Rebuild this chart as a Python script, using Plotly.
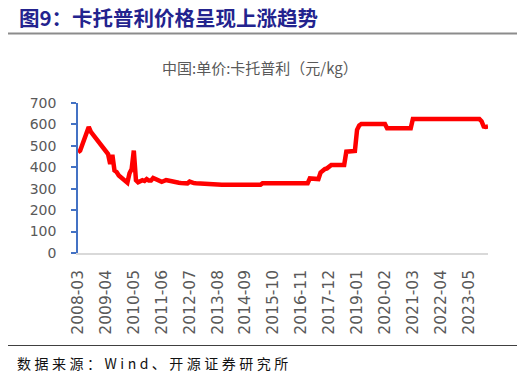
import plotly.graph_objects as go

# ---- data (monthly, 2008-03 .. 2024-02), 元/kg ----
start_year, start_month = 2008, 3
n_months = 192
months = []
y, m = start_year, start_month
for _ in range(n_months):
    months.append(f"{y}-{m:02d}")
    m += 1
    if m > 12:
        m = 1
        y += 1

prices = (
    [470, 478, 505, 535, 555, 588, 565, 552, 540, 530, 515, 500, 492, 478, 462, 415,
     458, 385, 378, 362, 352, 345, 335, 328, 372, 392, 478, 340, 330, 336, 340, 336,
     345, 338, 338, 350, 346, 342, 338, 332, 336, 340, 338, 335, 335, 332, 330, 328,
     327, 326, 326, 325, 333, 328, 326, 325, 324, 323, 322, 321, 320, 319, 319, 318,
     318, 318, 318, 318, 318, 318, 318, 318, 318, 318, 318, 318, 318, 318, 318, 318,
     318, 318, 318, 318, 318, 318, 326, 326, 326, 326, 326, 326, 326, 326, 326, 326,
     326, 326, 326, 326, 326, 326, 326, 326, 326, 326, 326, 326, 348, 348, 348, 348,
     345, 375, 386, 392, 395, 405, 411, 411, 411, 411, 411, 411, 411, 473, 473, 473,
     473, 476, 575, 595, 602, 602, 602, 602, 602, 602, 602, 602, 602, 602, 602, 602,
     582, 582, 582, 582, 582, 582, 582, 582, 582, 582, 582, 582, 625, 625, 625, 625,
     625, 625, 625, 625, 625, 625, 625, 625, 625, 625, 625, 625, 625, 625, 625, 625,
     625, 625, 625, 625, 625, 625, 625, 625, 625, 625, 625, 625, 615, 590, 588, 590]
)

tick_labels = months[::13]
y_ticks = [0, 100, 200, 300, 400, 500, 600, 700]

header_text = "图9：卡托普利价格呈现上涨趋势"
chart_title = "中国:单价:卡托普利（元/kg）"
source_text = "数据来源：Wind、开源证券研究所"

# ---- layout geometry (page body has an 8px margin) ----
OFF = 8
W, H = 527 - OFF, 377 - OFF
L, R, T, B = 78 - OFF, 39, 103 - OFF, 124
PW, PH = W - L - R, H - T - B


def px(xp):
    return (xp - OFF - L) / PW


def py(yp):
    return (H - B - (yp - OFF)) / PH


def spaced(s, sep="\u2005"):
    return sep.join(list(s))


fig = go.Figure()
fig.add_trace(go.Scatter(
    x=months, y=prices, mode="lines",
    line=dict(color="#FF0000", width=4.5),
    hoverinfo="skip", showlegend=False,
))

fig.update_layout(
    width=W, height=H,
    margin=dict(l=L, r=R, t=T, b=B),
    paper_bgcolor="white", plot_bgcolor="white",
    showlegend=False,
    xaxis=dict(
        type="category", range=[0, n_months - 1],
        tickmode="array", tickvals=tick_labels, ticktext=tick_labels,
        tickangle=-90,
        tickfont=dict(family="DejaVu Sans", size=15.5, color="#595959"),
        showgrid=False, zeroline=False,
        showline=True, linecolor="#D9D9D9", linewidth=1.5,
        ticks="", ticklabelstandoff=9,
    ),
    yaxis=dict(
        range=[0, 700], tickvals=y_ticks,
        tickfont=dict(family="DejaVu Sans", size=14, color="#595959"),
        showgrid=False, zeroline=False,
        showline=True, linecolor="#4472C4", linewidth=1.5,
        ticks="outside", ticklen=5, tickcolor="#4472C4", tickwidth=1.5,
        ticklabelstandoff=12,
    ),
    annotations=[
        dict(text=f"<b>{header_text}</b>", xref="paper", yref="paper",
             x=px(18), y=py(17), xanchor="left", yanchor="middle",
             showarrow=False, borderpad=0,
             font=dict(family="Noto Sans CJK SC", size=20.5, color="#23238E")),
        dict(text=chart_title, xref="paper", yref="paper",
             x=px(260), y=py(68), xanchor="center", yanchor="middle",
             showarrow=False,
             font=dict(family="Noto Sans CJK SC", size=15, color="#595959")),
        dict(text=spaced(source_text), xref="paper", yref="paper",
             x=px(15), y=py(363), xanchor="left", yanchor="middle",
             showarrow=False,
             font=dict(family="Noto Sans CJK SC", size=14, color="#111111")),
    ],
    shapes=[
        dict(type="line", xref="paper", yref="paper",
             x0=px(6), x1=px(517), y0=py(33.5), y1=py(33.5),
             line=dict(color="#8C8C8C", width=2)),
        dict(type="line", xref="paper", yref="paper",
             x0=px(6), x1=px(517), y0=py(345.5), y1=py(345.5),
             line=dict(color="#404040", width=1)),
    ],
)

fig.write_html("out.html")
